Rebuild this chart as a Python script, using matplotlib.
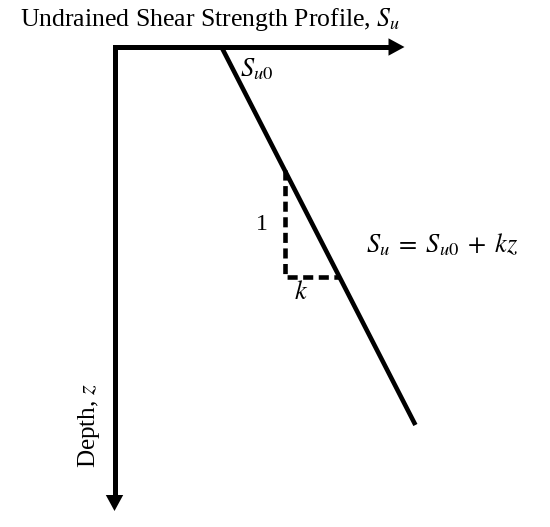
import matplotlib
matplotlib.use("Agg")
import matplotlib.pyplot as plt

# Diagram data (units: su to the right, depth z downward)
su0 = 107.0
k = 0.513
z_end = 378.0
line_z = [0.0, z_end]
line_su = [su0, su0 + k * z_end]
tri_z = [123.0, 230.0]
axis_su_max = 290.0
axis_z_max = 464.0

plt.rcParams['mathtext.fontset'] = 'stix'
plt.rcParams['font.family'] = ['Liberation Serif', 'DejaVu Serif']

fig = plt.figure(figsize=(5.5, 5.27), dpi=100)
ax = fig.add_axes([0, 0, 1, 1])
ax.set_xlim(-114.5, 435.5)
ax.set_ylim(480, -47)
ax.axis('off')

lw = 3.6
head_len = 16.0
head_half = 8.7

# axes (single polyline for sharp corner)
ax.plot([axis_su_max - head_len + 2, 0, 0], [0, 0, axis_z_max - head_len + 2],
        color='black', lw=lw, solid_joinstyle='miter', solid_capstyle='butt')
# arrowheads
ax.fill([axis_su_max, axis_su_max - head_len, axis_su_max - head_len],
        [0, -head_half, head_half], color='black', lw=0)
ax.fill([0, -head_half, head_half],
        [axis_z_max, axis_z_max - head_len, axis_z_max - head_len], color='black', lw=0)

# strength line
ax.plot(line_su, line_z, color='black', lw=3.3, solid_capstyle='butt')

# slope triangle
x_top = su0 + k * tri_z[0]
x_bot = su0 + k * tri_z[1]
ax.plot([x_top, x_top, x_bot], [tri_z[0], tri_z[1], tri_z[1]], color='black', lw=3.3,
        linestyle=(0, (2.2, 1.2)), dash_capstyle='butt', solid_joinstyle='miter')

# texts
ax.text(-95, -27, 'Undrained Shear Strength Profile, $S_u$', fontsize=18.5, va='center', ha='left')
ax.text(125, 22, '$S_{u0}$', fontsize=19, va='center', ha='left')
ax.text(x_top - 17, 178, '1', fontsize=17, va='center', ha='right')
ax.text(187, tri_z[1] + 16, '$k$', fontsize=19, va='center', ha='center')
ax.text(252, 198, r'$S_u\;=\;S_{u0}\;+\;kz$', fontsize=19, va='center', ha='left')
ax.text(-26, 378, 'Depth, $z$', fontsize=18, va='center', ha='center', rotation=90)

fig.savefig('out.png', dpi=100)
